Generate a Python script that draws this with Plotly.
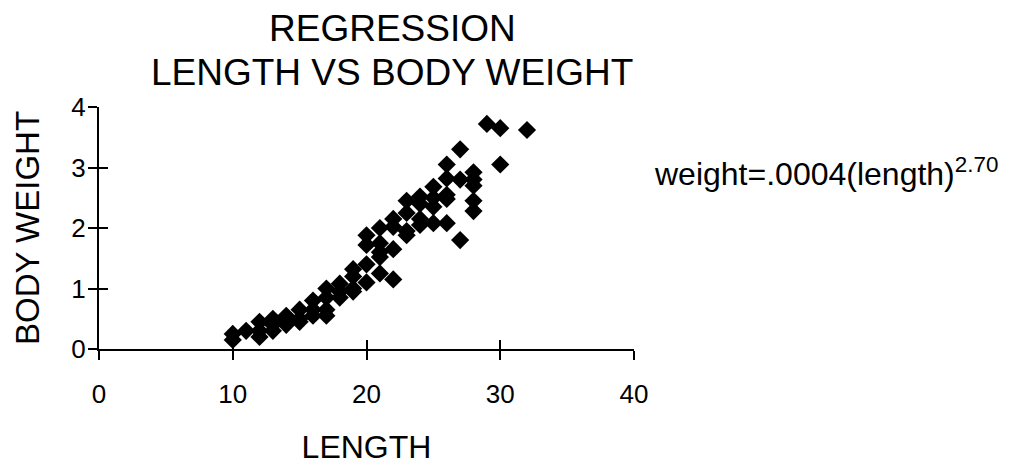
import plotly.graph_objects as go

# Data (length, body weight)
length = [10, 10, 11, 12, 12, 12, 13, 13, 13, 14, 14, 14, 15, 15, 15,
          16, 16, 16, 17, 17, 17, 17, 18, 18, 18, 19, 19, 19, 19,
          20, 20, 20, 20, 21, 21, 21, 21, 21, 22, 22, 22, 22,
          23, 23, 23, 23, 24, 24, 24, 24, 25, 25, 25, 25,
          26, 26, 26, 26, 26, 27, 27, 27, 28, 28, 28, 28, 28,
          29, 30, 30, 32]
weight = [0.25, 0.15, 0.3, 0.45, 0.3, 0.2, 0.5, 0.4, 0.3, 0.55, 0.45, 0.4, 0.65, 0.5, 0.45,
          0.8, 0.65, 0.55, 1.0, 0.85, 0.65, 0.55, 1.08, 0.95, 0.85, 1.32, 1.2, 1.0, 0.95,
          1.88, 1.72, 1.4, 1.1, 2.0, 1.75, 1.6, 1.52, 1.25, 2.15, 2.02, 1.65, 1.15,
          2.45, 2.25, 1.95, 1.88, 2.52, 2.4, 2.15, 2.05, 2.68, 2.5, 2.35, 2.08,
          3.05, 2.82, 2.55, 2.48, 2.08, 3.3, 2.8, 1.8, 2.92, 2.8, 2.7, 2.45, 2.28,
          3.72, 3.65, 3.05, 3.62]

x_ticks = [0, 10, 20, 30, 40]
y_ticks = [0, 1, 2, 3, 4]

FONT = "Liberation Sans, Arial, sans-serif"

fig = go.Figure()
fig.add_trace(go.Scatter(
    x=length, y=weight, mode="markers",
    marker=dict(symbol="diamond", size=14, color="black", line=dict(width=0)),
    cliponaxis=False, showlegend=False,
))
# empty trace on overlay axes so their inner tick marks render
fig.add_trace(go.Scatter(x=[None], y=[None], xaxis="x2", yaxis="y2", showlegend=False))

axis_common = dict(showgrid=False, zeroline=False, showline=True, linecolor="black",
                   linewidth=2, tickcolor="black", tickwidth=2, ticklen=9,
                   automargin=False)

# page body has an 8px margin, so the figure is sized/margined to compensate
fig.update_layout(
    width=1009, height=458,
    paper_bgcolor="white", plot_bgcolor="white",
    margin=dict(l=91, r=383, t=99, b=117),
    font=dict(family=FONT, color="black"),
    xaxis=dict(range=[0, 40], tickvals=x_ticks, ticks="outside",
               tickfont=dict(size=26), ticklabelstandoff=12,
               title=dict(text="LENGTH", font=dict(size=32), standoff=27),
               **axis_common),
    yaxis=dict(range=[0, 4], tickvals=y_ticks, ticks="outside",
               tickfont=dict(size=26), ticklabelstandoff=-3,
               title=dict(text="BODY WEIGHT", font=dict(size=33), standoff=22),
               **axis_common),
    xaxis2=dict(overlaying="x", matches="x", ticks="inside", showticklabels=False,
                tickvals=x_ticks, **axis_common),
    yaxis2=dict(overlaying="y", matches="y", ticks="inside", showticklabels=False,
                tickvals=y_ticks, **axis_common),
    annotations=[
        dict(text="REGRESSION", xref="paper", yref="paper", x=0.548, y=1.0,
             yshift=79, showarrow=False, font=dict(size=37), xanchor="center", yanchor="middle"),
        dict(text="LENGTH VS BODY WEIGHT", xref="paper", yref="paper", x=0.548, y=1.0,
             yshift=35, showarrow=False, font=dict(size=37), xanchor="center", yanchor="middle"),
        dict(text="weight=.0004(length)<sup>2.70</sup>", xref="paper", yref="paper",
             x=1.0, xshift=18, y=0.73, showarrow=False, font=dict(size=32),
             xanchor="left", yanchor="middle"),
    ],
)

fig.write_html("out.html")
